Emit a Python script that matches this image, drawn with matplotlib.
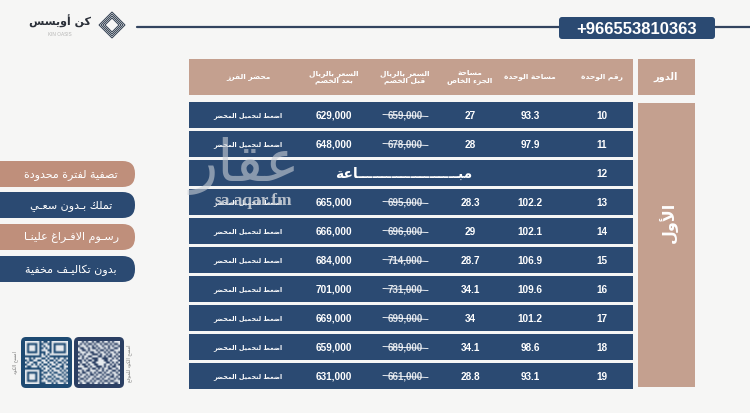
import numpy as np
import matplotlib
matplotlib.use("Agg")
import matplotlib.pyplot as plt
from matplotlib.colors import LinearSegmentedColormap
from matplotlib.patches import FancyBboxPatch, Rectangle, RegularPolygon

# ---------- data ----------
units = ["10", "11", "12", "13", "14", "15", "16", "17", "18", "19"]
areas = ["93.3", "97.9", "", "102.2", "102.1", "106.9", "109.6", "101.2", "98.6", "93.1"]
private = ["27", "28", "", "28.3", "29", "28.7", "34.1", "34", "34.1", "28.8"]
before = ["659,000", "678,000", "", "695,000", "696,000", "714,000", "731,000", "699,000", "689,000", "661,000"]
after = ["629,000", "648,000", "", "665,000", "666,000", "684,000", "701,000", "669,000", "659,000", "631,000"]
download = "اضغط لتحميل المحضر"
sold = "مبـــــــــــــــــــــاعة"
floor_head = "الدور"
floor_name = "الأول"
headers = ["رقم الوحدة", "مساحة الوحدة", "مساحة\nالجزء الخاص", "السعر بالريال\nقبل الخصم",
           "السعر بالريال\nبعد الخصم", "محضر الفرز"]
pills = ["تصفية لفترة محدودة", "تملك بـدون سعـي", "رسـوم الافـراغ علينـا", "بدون تكاليـف مخفية"]
phone = "+966553810363"
brand = "كن أويسس"
brand_en = "KIN OASIS"
watermark = "عقار"
watermark_url = "sa.aqar.fm"

NAVY = "#2b4a72"
TAN = "#c4a08f"
PILL_TAN = "#bf8f7b"
BG = "#f6f6f5"

# ---------- Arabic shaping into presentation forms ----------
FORMS = {  # isolated, final, initial, medial
    "ء": (0xFE80,), "أ": (0xFE83, 0xFE84), "إ": (0xFE87, 0xFE88), "ا": (0xFE8D, 0xFE8E), "آ": (0xFE81, 0xFE82),
    "ب": (0xFE8F, 0xFE90, 0xFE91, 0xFE92), "ة": (0xFE93, 0xFE94),
    "ت": (0xFE95, 0xFE96, 0xFE97, 0xFE98), "ج": (0xFE9D, 0xFE9E, 0xFE9F, 0xFEA0),
    "ح": (0xFEA1, 0xFEA2, 0xFEA3, 0xFEA4), "خ": (0xFEA5, 0xFEA6, 0xFEA7, 0xFEA8),
    "د": (0xFEA9, 0xFEAA), "ذ": (0xFEAB, 0xFEAC), "ر": (0xFEAD, 0xFEAE), "ز": (0xFEAF, 0xFEB0),
    "س": (0xFEB1, 0xFEB2, 0xFEB3, 0xFEB4), "ص": (0xFEB9, 0xFEBA, 0xFEBB, 0xFEBC),
    "ض": (0xFEBD, 0xFEBE, 0xFEBF, 0xFEC0), "ط": (0xFEC1, 0xFEC2, 0xFEC3, 0xFEC4),
    "ع": (0xFEC9, 0xFECA, 0xFECB, 0xFECC), "غ": (0xFECD, 0xFECE, 0xFECF, 0xFED0),
    "ف": (0xFED1, 0xFED2, 0xFED3, 0xFED4), "ق": (0xFED5, 0xFED6, 0xFED7, 0xFED8),
    "ك": (0xFED9, 0xFEDA, 0xFEDB, 0xFEDC), "ل": (0xFEDD, 0xFEDE, 0xFEDF, 0xFEE0),
    "م": (0xFEE1, 0xFEE2, 0xFEE3, 0xFEE4), "ن": (0xFEE5, 0xFEE6, 0xFEE7, 0xFEE8),
    "ه": (0xFEE9, 0xFEEA, 0xFEEB, 0xFEEC), "و": (0xFEED, 0xFEEE), "ي": (0xFEF1, 0xFEF2, 0xFEF3, 0xFEF4),
}
LAM_ALEF = {"ا": (0xFEFB, 0xFEFC), "أ": (0xFEF7, 0xFEF8), "إ": (0xFEF9, 0xFEFA), "آ": (0xFEF5, 0xFEF6)}


def joins_next(c):
    return c == "ـ" or (c in FORMS and len(FORMS[c]) == 4)


def joins_prev(c):
    return c == "ـ" or (c in FORMS and len(FORMS[c]) >= 2)


def shape_line(s):
    out = []
    i = 0
    n = len(s)
    while i < n:
        c = s[i]
        prev = s[i - 1] if i else ""
        link = bool(prev) and joins_next(prev) and joins_prev(c)
        if c == "ل" and i + 1 < n and s[i + 1] in LAM_ALEF:
            out.append(chr(LAM_ALEF[s[i + 1]][1 if link else 0]))
            i += 2
            continue
        if c in FORMS:
            f = FORMS[c]
            nxt = s[i + 1] if i + 1 < n else ""
            fwd = joins_next(c) and bool(nxt) and joins_prev(nxt)
            if link and fwd:
                out.append(chr(f[3]))
            elif fwd:
                out.append(chr(f[2]))
            elif link:
                out.append(chr(f[1]))
            else:
                out.append(chr(f[0]))
        else:
            out.append(c)
        i += 1
    return "".join(reversed(out))


def ar(s):
    return "\n".join(shape_line(p) for p in s.split("\n"))


# ---------- canvas in image pixels ----------
fig = plt.figure(figsize=(7.5, 4.14), dpi=100, facecolor=BG)
ax = fig.add_axes([0, 0, 1, 1])
ax.set_xlim(0, 750)
ax.set_ylim(414, 0)
ax.axis("off")
ARF = "DejaVu Sans"
NUM = "Liberation Sans"


def txt(x, y, s, size, color="white", weight="normal", family=ARF, **kw):
    ax.text(x, y, s, fontsize=size, color=color, fontweight=weight, family=family,
            ha="center", va="center", linespacing=1.15, **kw)


def rbox(x0, y0, x1, y1, r, color, z=1):
    ax.add_patch(FancyBboxPatch((x0 + r, y0 + r), x1 - x0 - 2 * r, y1 - y0 - 2 * r,
                                boxstyle=f"round,pad={r},rounding_size={r}",
                                fc=color, ec="none", zorder=z))


# top rule, phone box, logo
ax.plot([137, 750], [28, 28], color="#33445f", lw=1.6, zorder=1, solid_capstyle="round")
rbox(559, 18, 715, 40, 3, NAVY, 2)
txt(637, 29, phone, 12, weight="bold", family=NUM, zorder=3)
for r in [13, 11, 9, 7]:
    ax.add_patch(RegularPolygon((112, 26), 4, radius=r, orientation=0, fc="none",
                                ec="#2f3c4e", lw=0.7, zorder=2))
txt(60, 21, ar(brand), 8, color="#2a2f38", weight="bold")
txt(60, 34, brand_en, 3.4, color="#b5b5b5", family=NUM)

# header rows
COLS = [602, 530, 470, 405, 334, 248]
ax.add_patch(Rectangle((189, 59.5), 444, 36, fc=TAN, ec="none", zorder=1))
ax.add_patch(Rectangle((638, 59.5), 57, 36, fc=TAN, ec="none", zorder=1))
txt(666, 77, ar(floor_head), 7, weight="bold")
for x, h in zip(COLS, headers):
    txt(x, 77, ar(h), 5.4, weight="bold")

# floor block
ax.add_patch(Rectangle((638, 104), 57, 284, fc=TAN, ec="none", zorder=1))
txt(668, 222, ar(floor_name), 11.5, weight="bold", rotation=90)

# rows
for i, u in enumerate(units):
    top = 103 + i * 29
    ax.add_patch(Rectangle((189, top), 444, 26, fc=NAVY, ec="none", zorder=1))
    y = top + 13
    txt(COLS[0], y, u, 7.2, weight="bold", family=NUM, zorder=4)
    if not areas[i]:
        txt(404, y, ar(sold), 10, weight="bold", zorder=4)
        continue
    txt(COLS[1], y, areas[i], 7.2, weight="bold", family=NUM, zorder=4)
    txt(COLS[2], y, private[i], 7.2, weight="bold", family=NUM, zorder=4)
    txt(COLS[3], y, before[i], 7, weight="bold", family=NUM, zorder=4, alpha=0.85)
    ax.plot([COLS[3] - 22, COLS[3] + 23], [y - 0.5, y + 1.5], color="white", lw=0.6, zorder=4)
    txt(COLS[4], y, after[i], 7.2, weight="bold", family=NUM, zorder=4)
    txt(COLS[5], y, ar(download), 4.6, weight="bold", zorder=4)

# watermark
txt(245, 166, ar(watermark), 42, color="#c9ced6", zorder=5, alpha=0.6)
txt(253, 201, watermark_url, 12.5, color="#d2d6dc", weight="bold", family="Liberation Serif", zorder=5, alpha=0.85)

# pills
pill_tops = [162, 193, 225, 257]
pill_cols = [PILL_TAN, NAVY, PILL_TAN, NAVY]
for t, c, p in zip(pill_tops, pill_cols, pills):
    rbox(-20, t, 135, t + 26, 12.5, c, 2)
    txt(71, t + 13, ar(p), 8, zorder=3)

# QR codes (hand-typed module patterns)
QR_A = ["111111101001011111111",
        "100000100110010000001",
        "101110101011010111101",
        "101110100101010111101",
        "101110101110010111101",
        "100000100011010000001",
        "111111101010111111111",
        "000000001101000000000",
        "110101110010110101101",
        "010011001101001011010",
        "101100110110110100101",
        "011010101001011011010",
        "100111010110100110011",
        "000000001011011001010",
        "111111100110101110101",
        "100000101001010011010",
        "101110100111101100101",
        "101110101010010111010",
        "101110100101101001101",
        "100000101110010110010",
        "111111100011101011101"]
QR_B = ["110101101001011010111",
        "101010010110100101001",
        "011101101011011010110",
        "100110100101101011001",
        "110010111010010100111",
        "011101001101101011010",
        "101011100010110101101",
        "010110011100101001010",
        "110101100011000110101",
        "001010010011100101110",
        "101101100111110010101",
        "010010110011101101010",
        "111001011000101010011",
        "001110100101011001101",
        "110100111011010110010",
        "010011010100101101101",
        "101101001011010010110",
        "011010110110101100101",
        "100101101001011011010",
        "011011010110100100111",
        "101100101101011011001"]
for pat, x0, x1, col in [(QR_A, 21, 72, "#1e4a72"), (QR_B, 74, 124, "#2b3f63")]:
    rbox(x0, 338, x1, 389, 5, col, 2)
    m = np.array([[int(ch) for ch in row] for row in pat], dtype=float)
    ax.imshow(m, extent=(x0 + 4, x1 - 4, 385, 342),
              cmap=LinearSegmentedColormap.from_list("q", [col, "#e6eaee"]),
              interpolation="bilinear", zorder=3, aspect="auto")
ax.set_xlim(0, 750)
ax.set_ylim(414, 0)
txt(15, 363, ar("امسح الكود"), 3.4, color="#777777", rotation=90)
txt(129, 363, ar("امسح الكود للموقع"), 3.4, color="#777777", rotation=90)

fig.savefig("out.png", dpi=100, facecolor=BG)
